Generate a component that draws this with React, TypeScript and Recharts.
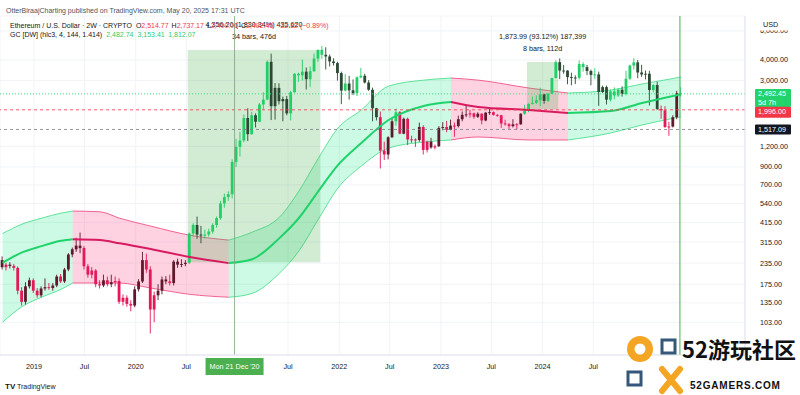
import {
  Area,
  Bar,
  CartesianGrid,
  ComposedChart,
  Line,
  ReferenceArea,
  ReferenceLine,
  XAxis,
  YAxis,
} from "recharts";

const FONT = '"Liberation Sans", Arial, sans-serif';
const DAY = 86400000;
const FIRST_BAR = Date.UTC(2018, 8, 10); // first 2W candle on screen
const barOf = (iso: string) => (Date.parse(iso) - FIRST_BAR) / (14 * DAY);

// ETH/USD 2W candles
const opens = [
  245, 222, 230, 226, 220, 160, 137, 170, 185, 160,
  150, 165, 168, 166, 172, 195, 182, 215, 265, 285,
  300, 290, 225, 200, 212, 175, 172, 185, 175, 180,
  183, 137, 145, 133, 130, 163, 182, 245, 215, 123,
  150, 160, 187, 182, 178, 240, 230, 232, 236, 355,
  400, 350, 345, 350, 365, 400, 440, 540, 590, 615,
  965, 1190, 1300, 1780, 1420, 1850, 1690, 2150, 2300, 3900,
  2100, 2710, 2250, 2320, 1900, 2550, 3300, 3230, 3400, 3060,
  3420, 4080, 4610, 4300, 4200, 3920, 3830, 3330, 2610, 2880,
  2620, 2520, 3140, 3210, 2920, 2640, 2040, 1800, 1130, 1070,
  1360, 1700, 1930, 1430, 1760, 1320, 1320, 1310, 1570, 1140,
  1280, 1180, 1200, 1550, 1570, 1510, 1600, 1590, 1750, 1860,
  1870, 1900, 1810, 1890, 1720, 1920, 1930, 1860, 1850, 1650,
  1630, 1590, 1630, 1630, 1890, 2010, 2170, 2200, 2280, 2480,
  2260, 2500, 3110, 3880, 3450, 3450, 3150, 3130, 3120, 3780,
  3620, 3430, 3250, 3270, 2560, 2740, 2300, 2580, 2440, 2640,
  2490, 3080, 3700, 3870, 3360, 3270, 3300, 2630, 2820, 2020,
  1980, 1570, 1580, 1800, 2514.77,
];
const highs = [
  258, 236, 238, 232, 224, 168, 180, 192, 190, 166,
  170, 190, 178, 178, 200, 202, 220, 270, 292, 335,
  360, 298, 232, 222, 216, 185, 200, 195, 200, 195,
  190, 152, 150, 140, 170, 188, 275, 268, 225, 158,
  175, 195, 196, 200, 245, 250, 248, 245, 360, 410,
  450, 395, 375, 380, 410, 450, 560, 620, 640, 1000,
  1330, 1470, 1870, 2040, 1940, 1900, 2200, 2550, 3980, 4370,
  2900, 2890, 2400, 2420, 2600, 3330, 3350, 4020, 3600, 3650,
  4380, 4620, 4870, 4780, 4320, 4100, 3900, 3400, 3280, 3200,
  3050, 3180, 3580, 3300, 3020, 2720, 2050, 1950, 1280, 1380,
  1780, 2030, 1960, 1790, 1790, 1390, 1340, 1670, 1610, 1300,
  1350, 1230, 1590, 1680, 1710, 1740, 1670, 1840, 1950, 2140,
  1990, 1920, 1930, 1900, 1930, 2030, 1950, 1880, 1860, 1740,
  1660, 1750, 1660, 1900, 2140, 2180, 2400, 2440, 2720, 2500,
  2520, 3120, 3990, 4090, 3730, 3470, 3350, 3230, 3970, 3880,
  3730, 3500, 3560, 3400, 2800, 2800, 2650, 2730, 2700, 2770,
  3440, 3750, 4100, 4000, 3740, 3450, 3440, 2850, 2950, 2120,
  2100, 1690, 1850, 2600, 2737.17,
];
const lows = [
  215, 212, 218, 212, 152, 130, 132, 165, 155, 145,
  146, 160, 162, 160, 168, 178, 178, 210, 255, 275,
  270, 215, 192, 190, 168, 165, 168, 170, 168, 170,
  133, 130, 128, 120, 127, 158, 178, 205, 88, 103,
  140, 152, 175, 172, 172, 220, 222, 225, 232, 340,
  330, 310, 330, 340, 355, 385, 430, 510, 560, 580,
  900, 1040, 1270, 1290, 1410, 1560, 1680, 2000, 2280, 1730,
  1740, 2150, 1700, 1850, 1720, 2540, 2950, 3000, 2650, 2740,
  3390, 3900, 4060, 3500, 3650, 3700, 3000, 2160, 2580, 2300,
  2450, 2420, 3100, 2880, 2600, 1700, 1720, 880, 990, 1000,
  1350, 1600, 1420, 1420, 1220, 1260, 1190, 1280, 1070, 1100,
  1160, 1150, 1190, 1500, 1460, 1500, 1370, 1560, 1700, 1800,
  1790, 1760, 1780, 1630, 1700, 1860, 1840, 1810, 1550, 1600,
  1530, 1560, 1520, 1620, 1860, 1930, 2150, 2160, 2100, 2170,
  2230, 2480, 3100, 3060, 3300, 2850, 2810, 2860, 3050, 3400,
  3240, 2810, 3080, 2110, 2520, 2150, 2240, 2310, 2390, 2400,
  2440, 3030, 3500, 3100, 3160, 3050, 2120, 2550, 1990, 1760,
  1550, 1390, 1560, 1750, 2400,
];
const closes = [
  222, 230, 226, 220, 160, 137, 170, 185, 160, 150,
  165, 168, 166, 172, 195, 182, 215, 265, 285, 300,
  290, 225, 200, 212, 175, 172, 185, 175, 180, 183,
  137, 145, 133, 130, 163, 182, 245, 215, 123, 150,
  160, 187, 182, 178, 240, 230, 232, 236, 355, 400,
  350, 345, 350, 365, 400, 440, 540, 590, 615, 965,
  1190, 1300, 1780, 1420, 1850, 1690, 2150, 2300, 3900, 2100,
  2710, 2250, 2320, 1900, 2550, 3300, 3230, 3400, 3060, 3420,
  4080, 4610, 4300, 4200, 3920, 3830, 3330, 2610, 2880, 2620,
  2520, 3140, 3210, 2920, 2640, 2040, 1800, 1130, 1070, 1360,
  1700, 1930, 1430, 1760, 1320, 1320, 1310, 1570, 1140, 1280,
  1180, 1200, 1550, 1570, 1510, 1600, 1590, 1750, 1860, 1870,
  1900, 1810, 1890, 1720, 1920, 1930, 1860, 1850, 1650, 1630,
  1590, 1630, 1630, 1890, 2010, 2170, 2200, 2280, 2480, 2260,
  2500, 3110, 3880, 3450, 3450, 3150, 3130, 3120, 3780, 3620,
  3430, 3250, 3270, 2560, 2740, 2300, 2580, 2440, 2640, 2490,
  3080, 3700, 3870, 3360, 3270, 3300, 2630, 2820, 2020, 1980,
  1570, 1580, 1800, 2514.77, 2492.45,
];

// Gaussian channel (filter / high band / low band) read at these candles
const gcBar = [0, 5, 10, 15, 18, 25, 30, 38, 48, 58, 64, 71, 76, 81, 86, 92, 99, 108, 115, 122, 135, 145, 156, 164, 174];
const gcMid = [236, 273, 298, 321, 328, 324, 310, 286, 256, 235, 248, 333, 441, 642, 923, 1256, 1731, 2105, 2225, 2075, 1990, 1910, 1962, 2195, 2482.74];
const gcUpper = [355, 405, 440, 472, 486, 481, 440, 394, 347, 324, 362, 446, 642, 1017, 1545, 1990, 2780, 3020, 3110, 3020, 2705, 2523, 2630, 2860, 3153.41];
const gcLower = [103, 128, 146, 163, 178, 178, 178, 166, 152, 146, 154, 204, 278, 434, 669, 910, 1170, 1272, 1310, 1366, 1310, 1310, 1445, 1615, 1812.07];

const priceTicks = [103, 135, 175, 235, 315, 415, 540, 700, 900, 1200, 3000, 4000, 6000];
const timeTickDates = ["2019-01-01", "2019-07-01", "2020-01-01", "2020-07-01", "2021-07-01", "2022-01-01", "2022-07-01", "2023-01-01", "2023-07-01", "2024-01-01", "2024-07-01"];
const timeTickLabels = ["2019", "Jul", "2020", "Jul", "Jul", "2022", "Jul", "2023", "Jul", "2024", "Jul"];

const lastPrice = 2492.45;
const alertLevel = 1996.0;
const supportLevel = 1517.09;
const crossDate = "2020-12-21";
const markerDate = "2025-05-08";

// date/price range measurements
const measureFrom = [48, 135];
const measureTo = [81, 142];
const measureLow = [238.0, 2012.5];
const measureHigh = [4594.2, 3886.49];

const GREEN = "#22cf66";
const DARK_GREEN = "#2c4a33";
const RED = "#e3195a";
const DARK_RED = "#5e1a2c";

const fmt = (v: number, d = 2) =>
  v.toFixed(d).replace(/\B(?=(\d{3})+(?!\d))/g, ",");

const midAt = (i: number) => {
  for (let k = 0; k < gcBar.length - 1; k++) {
    if (i >= gcBar[k] && i <= gcBar[k + 1]) {
      const f = (i - gcBar[k]) / (gcBar[k + 1] - gcBar[k]);
      return gcMid[k] + f * (gcMid[k + 1] - gcMid[k]);
    }
  }
  return gcMid[gcMid.length - 1];
};

const hlc3 = (i: number) => (highs[i] + lows[i] + closes[i]) / 3;

const rows = closes.map((c, i) => {
  const src = hlc3(i);
  const rising = i === 0 ? true : src > hlc3(i - 1);
  const above = src > midAt(i);
  const color = above ? (rising ? GREEN : DARK_GREEN) : rising ? DARK_RED : RED;
  return { i, o: opens[i], h: highs[i], l: lows[i], c, color };
});

// split the channel into rising / falling runs
const gcRuns: { up: boolean; data: { i: number; band: number[]; mid: number }[] }[] = [];
for (let k = 0; k < gcBar.length - 1; k++) {
  const up = gcMid[k + 1] > gcMid[k];
  const pt = (j: number) => ({ i: gcBar[j], band: [gcLower[j], gcUpper[j]], mid: gcMid[j] });
  const last = gcRuns[gcRuns.length - 1];
  if (last && last.up === up) last.data.push(pt(k + 1));
  else gcRuns.push({ up, data: [pt(k), pt(k + 1)] });
}

const tickPos = timeTickDates.map(barOf);

const Candle = (props: any) => {
  const { x, y, width, height, payload } = props;
  if (!payload || y == null || height == null) return null;
  const top = Math.min(y, y + height);
  const bot = Math.max(y, y + height);
  const lh = Math.log(payload.h);
  const ll = Math.log(payload.l);
  const at = (v: number) => top + ((lh - Math.log(v)) / (lh - ll)) * (bot - top);
  const yo = at(payload.o);
  const yc = at(payload.c);
  const cx = x + width / 2;
  const bt = Math.min(yo, yc);
  const bb = Math.max(yo, yc);
  return (
    <g>
      <line x1={cx} x2={cx} y1={top} y2={bot} stroke={payload.color} strokeWidth={0.9} />
      <rect x={cx - 1.4} y={bt} width={2.8} height={Math.max(bb - bt, 0.9)} fill={payload.color} />
    </g>
  );
};

const TimeTick = ({ x, y, payload }: any) => {
  const k = tickPos.findIndex((p) => Math.abs(p - payload.value) < 1e-6);
  return (
    <text x={x} y={y} dy={6} textAnchor="middle" fontSize={7.2} fill="#131722" fontFamily={FONT}>
      {k >= 0 ? timeTickLabels[k] : ""}
    </text>
  );
};

const PriceTick = ({ y, payload }: any) => (
  <text x={760} y={y} dy={2.5} fontSize={7.2} fill="#131722" fontFamily={FONT}>
    {fmt(payload.value)}
  </text>
);

const PriceTag = ({ viewBox, text, sub, fill, dy, h }: any) => {
  if (!viewBox) return null;
  const y = viewBox.y;
  return (
    <g>
      <rect x={755} y={y + dy} width={36} height={h} fill={fill} rx={1} />
      <text x={758} y={y + dy + 7.5} fontSize={7.2} fill="#fff" fontFamily={FONT}>
        {text}
      </text>
      {sub ? (
        <text x={758} y={y + dy + 16} fontSize={7.2} fill="#fff" fontFamily={FONT}>
          {sub}
        </text>
      ) : null}
    </g>
  );
};

const DateTag = ({ viewBox }: any) => {
  if (!viewBox) return null;
  const x = viewBox.x;
  return (
    <g>
      <rect x={x - 29} y={358} width={58} height={17} fill="#4caf50" />
      <text x={x} y={369} textAnchor="middle" fontSize={7.2} fill="#fff" fontFamily={FONT}>
        Mon 21 Dec '20
      </text>
    </g>
  );
};

const MeasureLabel = ({ viewBox, k }: any) => {
  if (!viewBox) return null;
  const cx = viewBox.x + viewBox.width / 2;
  const y = viewBox.y;
  const change = measureHigh[k] - measureLow[k];
  const bars = measureTo[k] - measureFrom[k] + 1;
  return (
    <g fontSize={7.2} fill="#131722" fontFamily={FONT} textAnchor="middle">
      <text x={cx} y={y - 23}>
        {`${fmt(change)} (${fmt((change / measureLow[k]) * 100)}%) ${fmt(change * 100, 0)}`}
      </text>
      <text x={cx} y={y - 11}>{`${bars} bars, ${bars * 14}d`}</text>
    </g>
  );
};

export default function App() {
  return (
    <div
      style={{
        position: "absolute",
        left: 0,
        top: 0,
        width: 800,
        height: 395,
        background: "#fff",
        overflow: "hidden",
        fontFamily: FONT,
      }}
    >
      <ComposedChart width={800} height={395} data={rows} margin={{ top: 16, right: 0, bottom: 0, left: 0 }}>
        <CartesianGrid stroke="#f1f3f7" />
        <XAxis
          type="number"
          dataKey="i"
          domain={[-0.65, 190.4]}
          allowDataOverflow
          ticks={tickPos}
          interval={0}
          tick={<TimeTick />}
          tickLine={false}
          axisLine={{ stroke: "#e0e3eb" }}
          height={40}
        />
        <YAxis
          orientation="right"
          scale="log"
          domain={[65.2, 7390]}
          allowDataOverflow
          ticks={priceTicks}
          interval={0}
          tick={<PriceTick />}
          tickLine={false}
          axisLine={{ stroke: "#e0e3eb" }}
          width={55}
        />
        {gcRuns.map((r, n) => (
          <Area
            key={`band${n}`}
            data={r.data}
            dataKey="band"
            type="monotone"
            fill={r.up ? "#00e676" : "#ff4d88"}
            fillOpacity={r.up ? 0.2 : 0.25}
            stroke={r.up ? "#3ddc84" : "#ec407a"}
            strokeWidth={0.8}
            dot={false}
            activeDot={false}
            isAnimationActive={false}
          />
        ))}
        {measureFrom.map((f, k) => (
          <ReferenceArea
            key={`m${k}`}
            x1={f - 0.5}
            x2={measureTo[k] + 0.5}
            y1={measureLow[k]}
            y2={measureHigh[k]}
            fill="#4caf50"
            fillOpacity={0.25}
            stroke="none"
            label={<MeasureLabel k={k} />}
          />
        ))}
        {gcRuns.map((r, n) => (
          <Line
            key={`mid${n}`}
            data={r.data}
            dataKey="mid"
            type="monotone"
            stroke={r.up ? "#1fd36b" : "#d81b60"}
            strokeWidth={2}
            dot={false}
            activeDot={false}
            isAnimationActive={false}
          />
        ))}
        <ReferenceLine
          y={lastPrice}
          stroke="#3ddc84"
          strokeDasharray="1 2"
          label={<PriceTag text={fmt(lastPrice)} sub="5d 7h" fill="#22d36a" dy={-5} h={18} />}
        />
        <ReferenceLine
          y={alertLevel}
          stroke="#f23645"
          strokeDasharray="3 3"
          strokeWidth={0.8}
          label={<PriceTag text={fmt(alertLevel)} fill="#f23645" dy={-3} h={11} />}
        />
        <ReferenceLine
          y={supportLevel}
          stroke="#787b86"
          strokeDasharray="3 3"
          strokeWidth={0.8}
          label={<PriceTag text={fmt(supportLevel)} fill="#131722" dy={-5} h={10} />}
        />
        <ReferenceLine x={barOf(crossDate)} stroke="#7f9f7f" strokeWidth={0.8} label={<DateTag />} />
        <ReferenceLine x={barOf(markerDate)} stroke="#4caf50" strokeWidth={1} />
        <Bar
          dataKey={(d: any) => [d.l, d.h]}
          barSize={3}
          shape={<Candle />}
          isAnimationActive={false}
        />
      </ComposedChart>
      <svg
        width={800}
        height={395}
        style={{ position: "absolute", left: 0, top: 0, pointerEvents: "none" }}
        fontFamily={FONT}
      >
        <text x={6} y={12.5} fontSize={7} fill="#50535e">
          OtterBiraajCharting published on TradingView.com, May 20, 2025 17:31 UTC
        </text>
        <text x={10} y={27.5} fontSize={7} fill="#131722">
          Ethereum / U.S. Dollar · 2W · CRYPTO
          <tspan dx={4}>O</tspan>
          <tspan fill="#f23645">2,514.77</tspan>
          <tspan dx={3}>H</tspan>
          <tspan fill="#f23645">2,737.17</tspan>
          <tspan dx={3}>L</tspan>
          <tspan fill="#f23645">2,400.00</tspan>
          <tspan dx={3}>C</tspan>
          <tspan fill="#f23645">2,492.45</tspan>
          <tspan dx={3} fill="#f23645">−22.32 (−0.89%)</tspan>
        </text>
        <text x={10} y={37} fontSize={7} fill="#131722">
          GC [DW] (hlc3, 4, 144, 1.414)
          <tspan dx={4} fill="#2ecc71">2,482.74</tspan>
          <tspan dx={4} fill="#2ecc71">3,153.41</tspan>
          <tspan dx={4} fill="#2ecc71">1,812.07</tspan>
        </text>
        <rect x={748} y={16} width={52} height={14.5} fill="#fff" />
        <text x={763} y={27} fontSize={7.2} fill="#131722">
          USD
        </text>
        <text x={5} y={389} fontSize={8} fontWeight="bold" fill="#131722">
          TV
        </text>
        <text x={17} y={389} fontSize={7} fill="#131722">
          TradingView
        </text>
        <circle cx={640} cy={349} r={13} fill="#f5a524" />
        <circle cx={640} cy={349} r={5.5} fill="#fff" />
        <rect x={662} y={340} width={13} height={13} fill="none" stroke="#35577a" strokeWidth={3} />
        <rect x={628} y={372} width={13} height={13} fill="none" stroke="#35577a" strokeWidth={3} />
        <path d="M662 369 L680 391 M680 369 L662 391" stroke="#f5a524" strokeWidth={6} strokeLinecap="round" />
        <text x={682} y={358} fontSize={22} fontWeight="bold" fill="#111" fontFamily='"Noto Sans CJK SC", sans-serif'>
          52游玩社区
        </text>
        <text x={690} y={389} fontSize={10} fontWeight="bold" fill="#111" letterSpacing={0.8}>
          52GAMERS.COM
        </text>
      </svg>
    </div>
  );
}
